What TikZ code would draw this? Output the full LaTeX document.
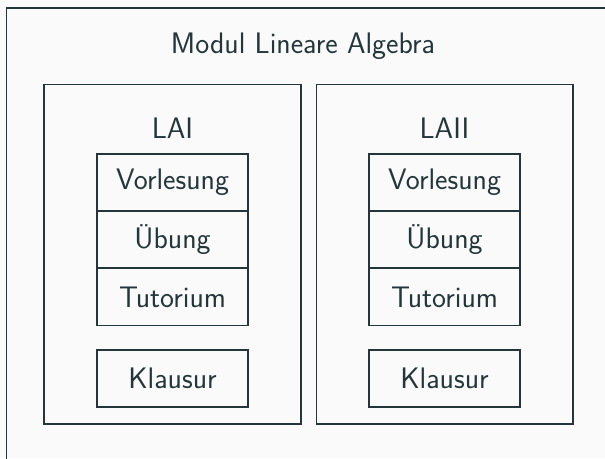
\documentclass[tikz,border=0pt]{standalone}
\usetikzlibrary{positioning}
\definecolor{dunkel}{HTML}{23373B}
\definecolor{hell}{HTML}{FAFAFA}
\tikzset{
	teil/.style={draw=dunkel, line width=0.6pt, inner sep=0pt, minimum width=3.02cm, minimum height=1.14cm, text=dunkel},
	semester/.style={draw=dunkel, line width=0.6pt, inner sep=0pt, minimum width=5.14cm, minimum height=6.8cm},
	titel/.style={text=dunkel, inner sep=0pt}
}

\begin{document}
\begin{tikzpicture}[x=0.02cm, y=-0.02cm, font=\sffamily\fontsize{16.9}{20}\selectfont]
			%%%%% START %%%%%
			
			\fill[hell] (0, 0) rectangle (605, 458);
			\useasboundingbox (0, 0) rectangle (605, 458);
			\clip (0, 0) rectangle (605, 458);
			
			\draw[dunkel, line width=0.6pt] (6.5, 8) rectangle (640, 490);
			\node[titel] (modul) at (303, 46) {Modul Lineare Algebra};
			
			\node[semester] (lai) at (172.5, 254) {};
			\node[titel] (lainame) at (172.5, 128) {LAI};
			\node[teil] (vlA) at (172.5, 182.5) {Vorlesung};
			\node[teil] (ubA) at (172.5, 239.5) {Übung};
			\node[teil] (tuA) at (172.5, 297) {Tutorium};
			\node[teil] (klA) at (172.5, 378.5) {Klausur};
			
			\node[semester] (laii) at (444.5, 254) {};
			\node[titel] (laiiname) at (444.5, 128) {LAII};
			\node[teil] (vlB) at (444.5, 182.5) {Vorlesung};
			\node[teil] (ubB) at (444.5, 239.5) {Übung};
			\node[teil] (tuB) at (444.5, 297) {Tutorium};
			\node[teil] (klB) at (444.5, 378.5) {Klausur};
			
			%%%%% END %%%%%
\end{tikzpicture}
\end{document}
